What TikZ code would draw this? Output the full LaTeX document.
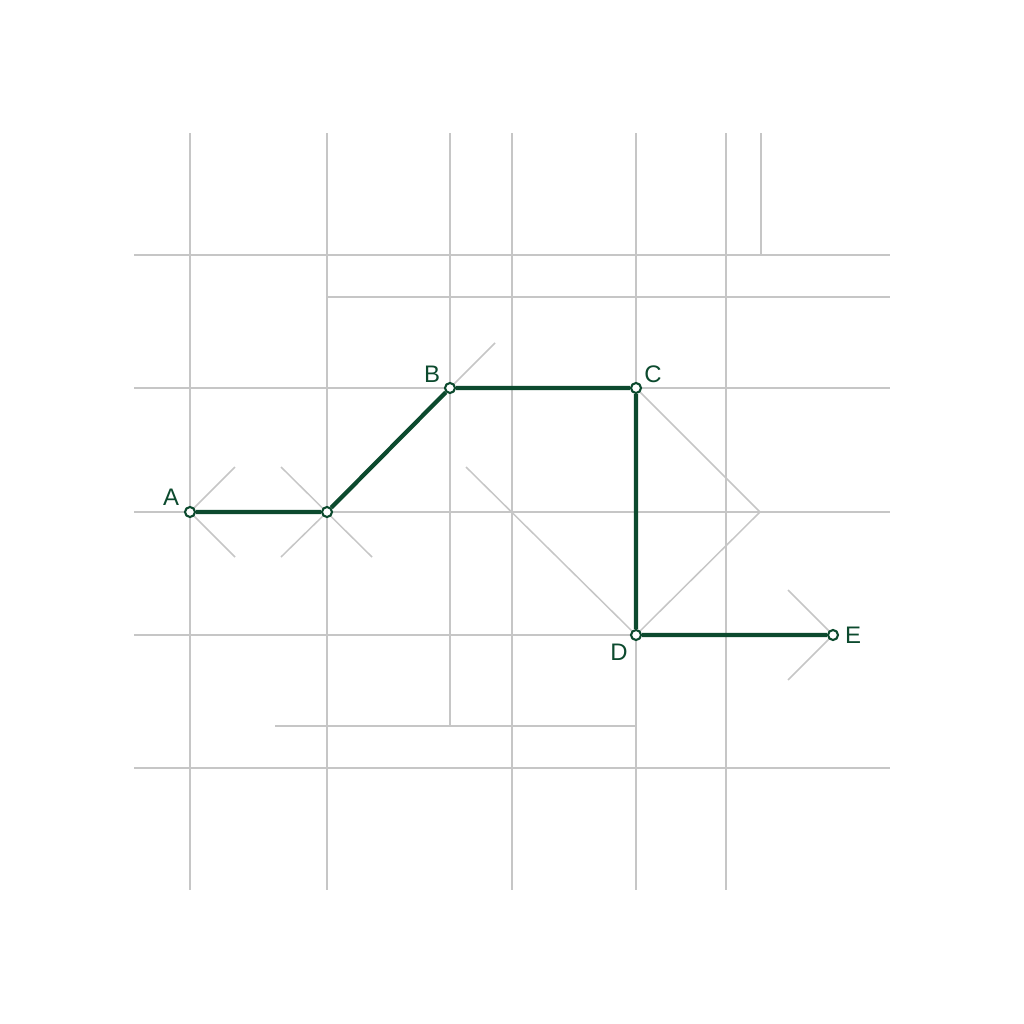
\documentclass[tikz,border=0pt]{standalone}
\usepackage{fontspec}
\setmainfont{Liberation Sans}
\definecolor{route}{HTML}{0C4A2E}
\definecolor{gridc}{HTML}{C6C6C6}
\tikzset{
  gridline/.style={draw=gridc, line width=0.42pt},
  routeline/.style={draw=route, line width=1.2pt},
  stop/.style={circle, draw=route, fill=white, line width=0.6pt, inner sep=0pt, minimum size=0.1cm},
  lbl/.style={text=route, font=\fontsize{6.8}{7.5}\selectfont, inner sep=0pt},
}
\begin{document}
\begin{tikzpicture}[x=0.01cm, y=-0.01cm]
\useasboundingbox (0,0) rectangle (1024,1024);
\fill[white] (0,0) rectangle (1024,1024);
% vertical grid lines
\draw[gridline] (190,133) -- (190,890);
\draw[gridline] (327,133) -- (327,890);
\draw[gridline] (450,133) -- (450,726);
\draw[gridline] (512,133) -- (512,890);
\draw[gridline] (636,133) -- (636,890);
\draw[gridline] (726,133) -- (726,890);
\draw[gridline] (761,133) -- (761,255);
% horizontal grid lines
\draw[gridline] (134,255) -- (890,255);
\draw[gridline] (327,297) -- (890,297);
\draw[gridline] (134,388) -- (890,388);
\draw[gridline] (134,512) -- (890,512);
\draw[gridline] (134,635) -- (833,635);
\draw[gridline] (275,726) -- (636,726);
\draw[gridline] (134,768) -- (890,768);
% diagonal guides
\draw[gridline] (235,467) -- (190,512) -- (235,557);
\draw[gridline] (281,467) -- (372,557);
\draw[gridline] (281,557) -- (327,512);
\draw[gridline] (450,388) -- (495,343);
\draw[gridline] (466,467) -- (636,635);
\draw[gridline] (636,388) -- (760,512) -- (636,635);
\draw[gridline] (788,590) -- (833,635) -- (788,680);
% stops
\node[stop] (A) at (190,512) {};
\node[stop] (P) at (327,512) {};
\node[stop] (B) at (450,388) {};
\node[stop] (C) at (636,388) {};
\node[stop] (D) at (636,635) {};
\node[stop] (E) at (833,635) {};
% route
\draw[routeline] (A) -- (P) -- (B) -- (C) -- (D) -- (E);
% labels
\node[lbl] (lA) at (171,497) {A};
\node[lbl] (lB) at (432,374) {B};
\node[lbl] (lC) at (653,374) {C};
\node[lbl] (lD) at (619,652) {D};
\node[lbl] (lE) at (853,635) {E};
\end{tikzpicture}
\end{document}
